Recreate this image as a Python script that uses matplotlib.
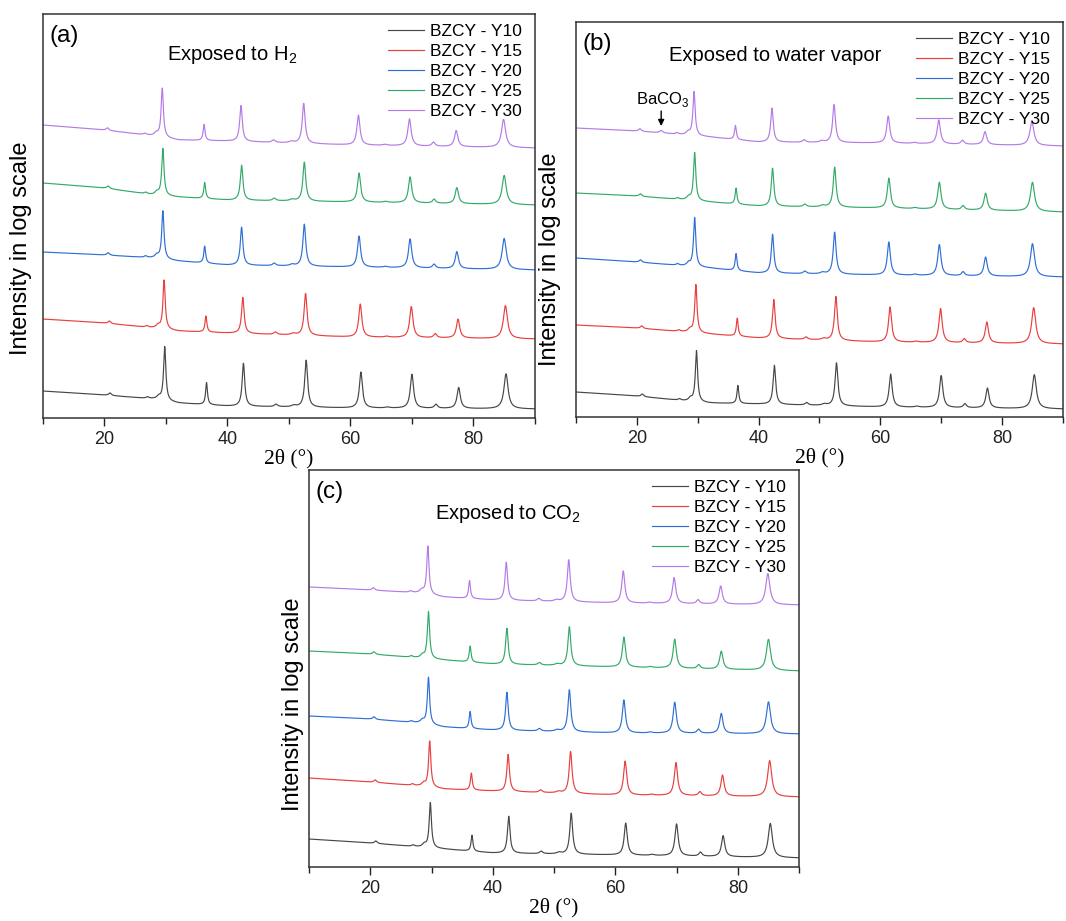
import numpy as np
import matplotlib
matplotlib.use('Agg')
import matplotlib.pyplot as plt

plt.rcParams['font.family'] = ['Liberation Sans', 'DejaVu Sans']
plt.rcParams['mathtext.fontset'] = 'custom'
plt.rcParams['mathtext.rm'] = 'Liberation Sans'

# ---------------- data ----------------
series_labels = ['BZCY - Y10', 'BZCY - Y15', 'BZCY - Y20', 'BZCY - Y25', 'BZCY - Y30']
series_colors = ['#474747', '#e8403f', '#2f6fd6', '#34aa6a', '#b47be8']
peak_shift = [0.0, -0.1, -0.3, -0.3, -0.4]          # 2θ shift of each series

main_peak_pos = [29.8, 36.6, 42.6, 52.8, 61.7, 70.0, 77.6, 85.3]
main_peak_hwhm = [0.22, 0.18, 0.25, 0.28, 0.30, 0.32, 0.32, 0.40]
minor_peak_pos = [20.9, 27.0, 28.8, 47.9, 50.8, 66.0, 73.9]
minor_peak_height = [2.5, 1.5, 3.0, 2.5, 1.5, 1.0, 4.0]
minor_peak_hwhm = [0.25, 0.25, 0.35, 0.30, 0.40, 0.40, 0.30]

baseline_x = [10, 20, 28, 32, 40, 60, 90]

# panel (a): exposed to H2  (offset baselines, peak heights above baseline)
a_baseline = [[27, 23, 19, 15, 12, 10, 9],
              [99, 95, 90, 87, 85, 81, 79],
              [166, 163, 160, 157, 153, 151, 148],
              [235, 230, 223, 221, 218, 216, 213],
              [293, 288, 282, 278, 277, 273, 270]]
a_peaks = [[54, 22, 43, 47, 36, 34, 21, 35],
           [49, 16, 36, 42, 33, 31, 19, 33],
           [48, 17, 38, 42, 31, 29, 17, 31],
           [47, 16, 35, 39, 29, 26, 16, 29],
           [49, 16, 36, 40, 30, 27, 16, 28]]

# panel (b): exposed to water vapor
b_baseline = [[25, 21, 16, 14, 13, 10, 8],
              [92, 89, 85, 83, 79, 75, 73],
              [159, 155, 151, 149, 144, 142, 140],
              [224, 221, 217, 215, 211, 209, 205],
              [289, 286, 282, 280, 275, 274, 271]]
b_peaks = [[51, 18, 39, 43, 33, 32, 20, 34],
           [48, 18, 39, 44, 35, 34, 21, 36],
           [49, 17, 39, 42, 33, 31, 19, 33],
           [48, 16, 38, 40, 30, 27, 17, 29],
           [44, 14, 34, 38, 27, 24, 13, 24]]
b_baco3_pos = 24.0
b_baco3_height = [0, 0, 0, 0, 2.5]

# panel (c): exposed to CO2
c_baseline = [[28, 24, 20, 18, 14, 12, 9],
              [89, 85, 81, 78, 76, 72, 70],
              [151, 148, 144, 140, 137, 134, 133],
              [216, 213, 209, 207, 203, 200, 196],
              [280, 277, 274, 270, 267, 264, 262]]
c_peaks = [[45, 16, 37, 41, 32, 32, 21, 34],
           [46, 17, 37, 42, 34, 33, 21, 36],
           [47, 17, 38, 42, 33, 31, 20, 32],
           [47, 16, 36, 39, 30, 29, 18, 31],
           [48, 18, 38, 42, 32, 26, 18, 31]]

panel_titles = ['Exposed to H$_2$', 'Exposed to water vapor', 'Exposed to CO$_2$']
panel_tags = ['(a)', '(b)', '(c)']
x_ticks = [20, 40, 60, 80]
x_minor = [10, 30, 50, 70, 90]

# ---------------- drawing ----------------
fig = plt.figure(figsize=(10.66, 9.21), dpi=100)
axes_rects = [[0.0403, 0.5461, 0.4615, 0.4387],
              [0.5403, 0.5472, 0.4568, 0.4289],
              [0.2899, 0.0586, 0.4597, 0.4311]]
ylims = [404, 395, 397]
title_pos = [(0.385, 0.90), (0.41, 0.916), (0.406, 0.89)]
ylabel_pos = [(-0.022, 0.42), (-0.030, 0.40), (-0.010, 0.41)]

x = np.linspace(10, 90, 8001)


def lorentz(xx, p, h, w):
    return h / (1.0 + ((xx - p) / w) ** 2)


panels = [(a_baseline, a_peaks), (b_baseline, b_peaks), (c_baseline, c_peaks)]
for k, (bases, peaks) in enumerate(panels):
    ax = fig.add_axes(axes_rects[k])
    for i in range(5):
        y = np.interp(x, baseline_x, bases[i])
        for p, h, w in zip(main_peak_pos, peaks[i], main_peak_hwhm):
            y = y + lorentz(x, p + peak_shift[i], h, w)
        for p, h, w in zip(minor_peak_pos, minor_peak_height, minor_peak_hwhm):
            y = y + lorentz(x, p + peak_shift[i], h, w)
        if k == 1:
            y = y + lorentz(x, b_baco3_pos, b_baco3_height[i], 0.3)
        ax.plot(x, y, color=series_colors[i], lw=0.85, label=series_labels[i])

    ax.set_xlim(10, 90)
    ax.set_ylim(0, ylims[k])
    ax.set_yticks([])
    ax.set_xticks(x_ticks)
    ax.set_xticks(x_minor, minor=True)
    ax.tick_params(axis='x', which='major', direction='out', length=6, width=1.0,
                   labelsize=13, pad=3, colors='#222222')
    ax.tick_params(axis='x', which='minor', direction='out', length=4, width=1.0,
                   colors='#222222')
    for s in ax.spines.values():
        s.set_linewidth(1.1)
        s.set_color('#333333')

    ax.set_xlabel('2θ (°)', fontsize=15.5, family='Liberation Serif', labelpad=1)
    ax.set_ylabel('Intensity in log scale', fontsize=17)
    ax.yaxis.set_label_coords(*ylabel_pos[k])

    ax.text(title_pos[k][0], title_pos[k][1], panel_titles[k], transform=ax.transAxes,
            fontsize=14.5, ha='center', va='center')
    ax.text(0.013, 0.945, panel_tags[k], transform=ax.transAxes,
            fontsize=17.5, ha='left', va='center')

    ax.legend(loc='upper right', bbox_to_anchor=(0.991, 0.998), frameon=False,
              fontsize=12.5, handlelength=2.07, handletextpad=0.35,
              labelspacing=0.28, borderaxespad=0.2, borderpad=0.3)

    if k == 1:
        ax.annotate('', xy=(b_baco3_pos, 291), xytext=(b_baco3_pos, 306),
                    arrowprops=dict(arrowstyle='-|>', color='black', lw=1.0,
                                    mutation_scale=9, shrinkA=0, shrinkB=0))
        ax.text(b_baco3_pos + 0.3, 318, 'BaCO$_3$', fontsize=12,
                ha='center', va='center')

fig.savefig('out.png', dpi=100)
